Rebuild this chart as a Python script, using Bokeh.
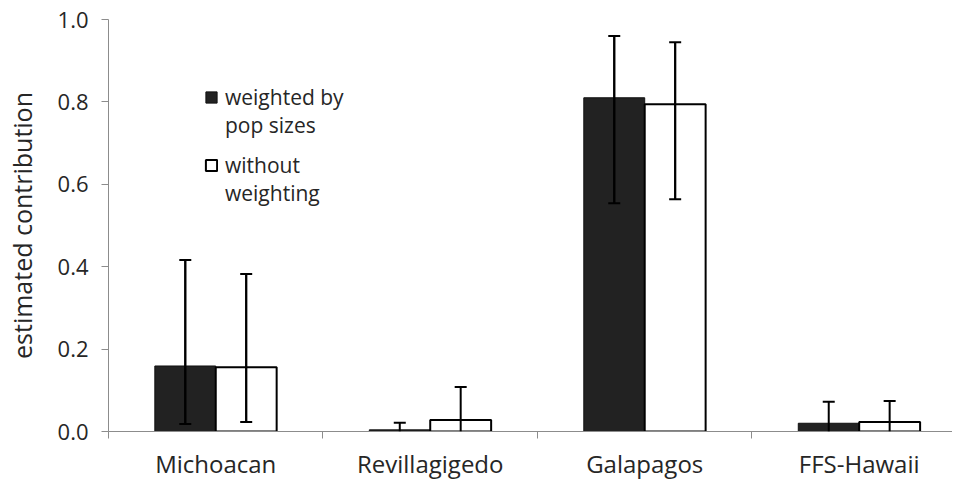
from bokeh.plotting import figure
from bokeh.models import (ColumnDataSource, Range1d, FixedTicker, Whisker, TeeHead,
                          Legend, LegendItem, PrintfTickFormatter)
from bokeh.embed import file_html
from bokeh.resources import INLINE

categories = ["Michoacan", "Revillagigedo", "Galapagos", "FFS-Hawaii"]
weighted = [0.159, 0.004, 0.810, 0.020]
weighted_lo = [0.018, 0.0, 0.554, 0.0]
weighted_hi = [0.416, 0.021, 0.960, 0.072]
unweighted = [0.156, 0.028, 0.794, 0.023]
unweighted_lo = [0.023, 0.0, 0.564, 0.0]
unweighted_hi = [0.382, 0.108, 0.945, 0.074]
y_ticks = [0.0, 0.2, 0.4, 0.6, 0.8, 1.0]
legend_lines_w = ["weighted by", "pop sizes"]
legend_lines_u = ["without", "weighting"]

FONT = "Open Sans"
TXT = "#262626"
AX = "#8c8c8c"
BW = 0.284  # bar width in category units

n = len(categories)
centers = [i + 0.5 for i in range(n)]

p = figure(width=952, height=482, output_backend="svg", toolbar_location=None,
           x_range=Range1d(0, 3.935), y_range=Range1d(0, 1.0),
           min_border_left=108, min_border_right=0, min_border_top=19, min_border_bottom=51)
p.outline_line_color = None
p.xgrid.visible = False
p.ygrid.visible = False
p.background_fill_color = "white"
p.border_fill_color = "white"

src_w = ColumnDataSource(dict(x=[c - BW / 2 for c in centers], top=weighted,
                              lo=weighted_lo, hi=weighted_hi))
src_u = ColumnDataSource(dict(x=[c + BW / 2 for c in centers], top=unweighted,
                              lo=unweighted_lo, hi=unweighted_hi))

r_w = p.vbar(x="x", top="top", bottom=0, width=BW, source=src_w,
             fill_color="#222222", line_color="#111111", line_width=1)
r_u = p.vbar(x="x", top="top", bottom=0, width=BW, source=src_u,
             fill_color="white", line_color="#000000", line_width=2)

for src, lo, hi in ((src_w, weighted_lo, weighted_hi), (src_u, unweighted_lo, unweighted_hi)):
    xs = src.data["x"]
    p.add_layout(Whisker(source=src, base="x", lower="lo", upper="hi", level="annotation",
                         line_color="black", line_width=2,
                         upper_head=TeeHead(size=12, line_width=2, line_color="black"),
                         lower_head=None))
    keep = [i for i in range(n) if lo[i] > 0]
    sub = ColumnDataSource(dict(x=[xs[i] for i in keep], lo=[lo[i] for i in keep],
                                hi=[hi[i] for i in keep]))
    p.add_layout(Whisker(source=sub, base="x", lower="lo", upper="hi", level="annotation",
                         line_color="black", line_width=2,
                         lower_head=TeeHead(size=12, line_width=2, line_color="black"),
                         upper_head=None))

# y axis
ya = p.yaxis[0]
ya.ticker = FixedTicker(ticks=y_ticks)
ya.formatter = PrintfTickFormatter(format="%.1f")
ya.minor_tick_line_color = None
ya.major_tick_in = 0
ya.major_tick_out = 7
ya.axis_line_color = AX
ya.major_tick_line_color = AX
ya.major_label_text_font = FONT
ya.major_label_text_font_size = "22px"
ya.major_label_text_color = TXT
ya.major_label_standoff = 13
ya.axis_label = "estimated contribution"
ya.axis_label_text_font = FONT
ya.axis_label_text_font_size = "25px"
ya.axis_label_text_font_style = "normal"
ya.axis_label_text_color = TXT
ya.axis_label_standoff = 16

# x axis: labels at category centres, ticks between categories
xa = p.xaxis[0]
xa.ticker = FixedTicker(ticks=centers, minor_ticks=[0, 1, 2, 3, 4])
xa.major_label_overrides = {c: lab for c, lab in zip(centers, categories)}
xa.major_tick_in = 0
xa.major_tick_out = 0
xa.minor_tick_in = 0
xa.minor_tick_out = 7
xa.minor_tick_line_color = AX
xa.axis_line_color = AX
xa.major_label_text_font = FONT
xa.major_label_text_font_size = "24px"
xa.major_label_text_color = TXT
xa.major_label_standoff = 8

common = dict(border_line_color=None, background_fill_alpha=0, padding=0, margin=0,
              spacing=0, glyph_width=14, glyph_height=14, label_standoff=7,
              label_text_font=FONT, label_text_font_size="21px", label_text_color=TXT)
leg_w = Legend(items=[LegendItem(label=legend_lines_w[0], renderers=[r_w]),
                      LegendItem(label=legend_lines_w[1], renderers=[])],
               location=(96, 292), **common)
leg_u = Legend(items=[LegendItem(label=legend_lines_u[0], renderers=[r_u]),
                      LegendItem(label=legend_lines_u[1], renderers=[])],
               location=(96, 224), **common)
p.add_layout(leg_w)
p.add_layout(leg_u)

open("out.html", "w").write(file_html(p, INLINE))
